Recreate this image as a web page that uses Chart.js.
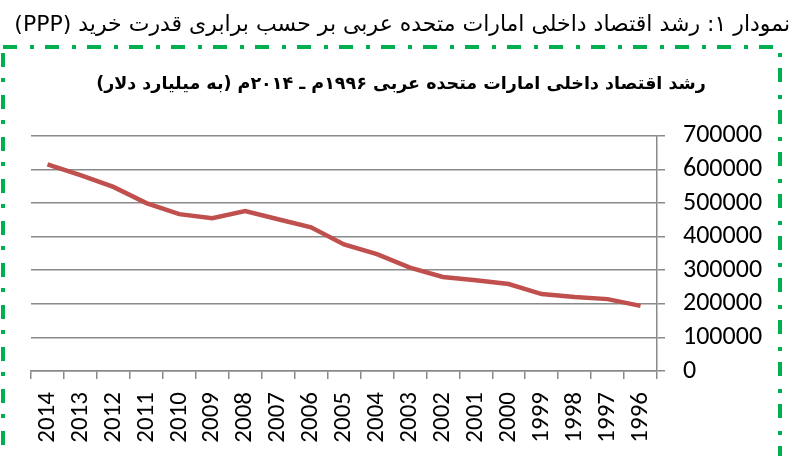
<!DOCTYPE html>
<html>
<head>
<meta charset="utf-8">
<script src="https://cdn.jsdelivr.net/npm/chart.js@4"></script>
<style>
  html, body { margin: 0; padding: 0; background: #fff; }
  #wrap { position: relative; width: 795px; height: 456px; }
</style>
</head>
<body>
<div id="wrap"><canvas id="c" dir="rtl" width="795" height="456"></canvas></div>
<script>
const years = ['2014', '2013', '2012', '2011', '2010', '2009', '2008', '2007', '2006', '2005',
  '2004', '2003', '2002', '2001', '2000', '1999', '1998', '1997', '1996'];
const gdp = [615000, 583000, 548000, 500000, 467000, 455000, 476000, 452000, 428000, 377000,
  348000, 308000, 280000, 270000, 259000, 229000, 220000, 214000, 194000];
const yTicks = [0, 100000, 200000, 300000, 400000, 500000, 600000, 700000];

const caption = 'نمودار ۱: رشد اقتصاد داخلی امارات متحده عربی بر حسب برابری قدرت خرید (PPP)';
const chartTitle = 'رشد اقتصاد داخلی امارات متحده عربی ۱۹۹۶م ـ ۲۰۱۴م (به میلیارد دلار)';

const gridGray = '#8a8a8a';

// green dash-dot frame around the chart
const frame = {
  id: 'frame',
  beforeDraw(chart) {
    const ctx = chart.ctx;
    ctx.save();
    ctx.strokeStyle = '#00B050';
    ctx.lineWidth = 4;
    ctx.setLineDash([14, 13, 4, 11]);
    ctx.strokeRect(3, 47, 777, 430);
    ctx.restore();
  }
};

const ctx = document.getElementById('c').getContext('2d');
new Chart(ctx, {
  type: 'line',
  data: {
    labels: years,
    datasets: [{
      data: gdp,
      borderColor: '#C0504D',
      borderWidth: 4.5,
      pointRadius: 0,
      tension: 0,
      fill: false
    }]
  },
  options: {
    responsive: false,
    animation: false,
    layout: { padding: { left: 12, right: 5, top: 0, bottom: 0 } },
    plugins: {
      legend: { display: false },
      tooltip: { enabled: false },
      title: {
        display: true,
        text: caption,
        align: 'end',
        color: '#000',
        font: { family: 'DejaVu Sans', size: 22, weight: 'normal' },
        padding: { top: 12, bottom: 19 }
      },
      subtitle: {
        display: true,
        text: chartTitle,
        color: '#000',
        font: { family: 'DejaVu Sans', size: 17.5, weight: 'bold' },
        padding: { top: 17, bottom: 40.5 }
      }
    },
    scales: {
      x: {
        offset: true,
        grid: { display: true, drawOnChartArea: false, drawTicks: true, tickLength: 8, color: gridGray, lineWidth: 1.5, offset: true },
        border: { display: true, color: gridGray, width: 1.5 },
        ticks: {
          color: '#000',
          font: { family: 'Carlito', size: 25 },
          minRotation: 90,
          maxRotation: 90,
          padding: 13,
          autoSkip: false
        },
        afterFit(scale) { scale.height = 85; }
      },
      y: {
        position: 'right',
        min: 0,
        max: 700000,
        afterBuildTicks(scale) { scale.ticks = yTicks.map(v => ({ value: v })); },
        grid: { color: gridGray, lineWidth: 1.5, tickLength: 8 },
        border: { display: true, color: gridGray, width: 1.5 },
        ticks: {
          color: '#000',
          font: { family: 'Carlito', size: 26 },
          padding: 18,
          autoSkip: false,
          callback: v => String(v)
        },
        afterFit(scale) { scale.width = 133; }
      },
      // empty left strip so the plot starts where the reference does
      spacer: {
        position: 'left',
        display: true,
        grid: { display: false },
        border: { display: false },
        ticks: { display: false },
        afterFit(scale) { scale.width = 19; }
      }
    }
  },
  plugins: [frame]
});
</script>
</body>
</html>
